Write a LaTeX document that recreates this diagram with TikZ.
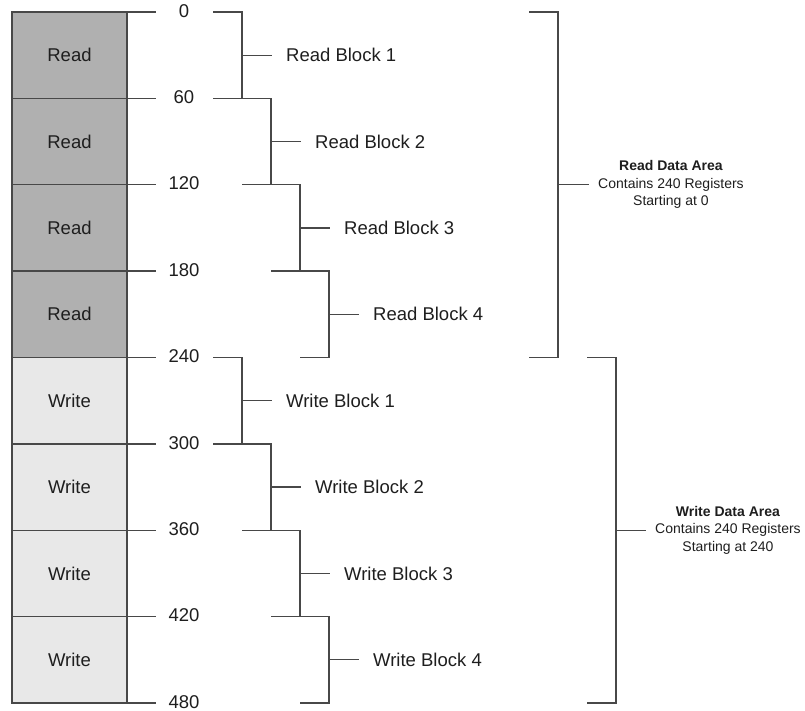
\documentclass[tikz,border=0pt]{standalone}
\usepackage{fontspec}
\setmainfont{Liberation Sans}
\usetikzlibrary{positioning}
\definecolor{readfill}{RGB}{176,176,176}
\definecolor{writefill}{RGB}{232,232,232}
\definecolor{rulegray}{RGB}{72,72,72}
\definecolor{ink}{RGB}{30,30,30}

\begin{document}
\begin{tikzpicture}
    [x=1pt, y=-1pt,
    wire/.style={draw=rulegray, line width=1.3pt},
    cell/.style={draw=rulegray, line width=1.3pt, minimum width=115pt, minimum height=86.375pt, inner sep=0pt, text=ink, font=\fontsize{18.5}{22}\selectfont},
    addr/.style={inner sep=0pt, yshift=1.2pt, text=ink, font=\fontsize{18.5}{22}\selectfont},
    blocklabel/.style={anchor=west, inner xsep=14pt, inner ysep=0pt, text=ink, font=\fontsize{18.5}{22}\selectfont},
    arealabel/.style={anchor=west, align=center, inner xsep=9pt, inner ysep=0pt, text=ink, font=\fontsize{14}{17.5}\selectfont}]
    \useasboundingbox (0,0) rectangle (805,711);

    %% register column
    \foreach \i/\kind/\shade in {0/Read/readfill,1/Read/readfill,2/Read/readfill,3/Read/readfill,
                                4/Write/writefill,5/Write/writefill,6/Write/writefill,7/Write/writefill}
        \node[cell, fill=\shade] (C\i) at (69.5, 55.1875+86.375*\i) {\kind};

    %% addresses
    \foreach \i in {0,...,8} {
        \pgfmathtruncatemacro\addr{60*\i}
        \coordinate (T\i) at (127, 12+86.375*\i);
        \coordinate (U\i) at (156, 12+86.375*\i);
        \node[addr] (A\i) at (184, 12+86.375*\i) {\addr};
        \draw[wire] (T\i) -- (U\i);
    }

    %% blocks
    \foreach \g/\kind in {0/Read,1/Write}
        \foreach \k in {0,...,3} {
            \pgfmathtruncatemacro\n{4*\g+\k}
            \pgfmathtruncatemacro\num{\k+1}
            \coordinate (P\n) at (213+29*\k, 12+86.375*\n);
            \coordinate (Q\n) at (242+29*\k, 12+86.375*\n);
            \coordinate (R\n) at (242+29*\k, 98.375+86.375*\n);
            \coordinate (S\n) at (213+29*\k, 98.375+86.375*\n);
            \coordinate (M\n) at (242+29*\k, 55.1875+86.375*\n);
            \node[blocklabel] (B\n) at (272+29*\k, 55.1875+86.375*\n) {\kind\ Block \num};
            \draw[wire] (P\n) -- (Q\n) -- (R\n) -- (S\n);
            \draw[wire] (M\n) -- (B\n.west);
        }

    %% data areas
    \coordinate (RD1) at (529, 12);
    \coordinate (RD2) at (558, 12);
    \coordinate (RD3) at (558, 357.5);
    \coordinate (RD4) at (529, 357.5);
    \coordinate (RDm) at (558, 184.75);
    \node[arealabel] (RD) at (589, 184.75) {\textbf{Read Data Area}\\Contains 240 Registers\\Starting at 0};
    \draw[wire] (RD1) -- (RD2) -- (RD3) -- (RD4);
    \draw[wire] (RDm) -- (RD.west);

    \coordinate (WD1) at (587, 357.5);
    \coordinate (WD2) at (616, 357.5);
    \coordinate (WD3) at (616, 703);
    \coordinate (WD4) at (587, 703);
    \coordinate (WDm) at (616, 530.25);
    \node[arealabel] (WD) at (646, 530.25) {\textbf{Write Data Area}\\Contains 240 Registers\\Starting at 240};
    \draw[wire] (WD1) -- (WD2) -- (WD3) -- (WD4);
    \draw[wire] (WDm) -- (WD.west);
\end{tikzpicture}
\end{document}
